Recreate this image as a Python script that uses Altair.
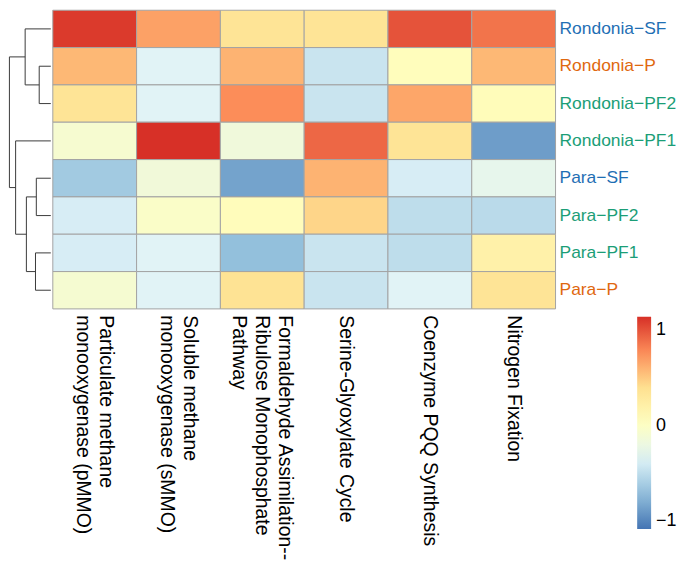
import altair as alt
import pandas as pd
import numpy as np

rows = ["Rondonia−SF", "Rondonia−P", "Rondonia−PF2", "Rondonia−PF1",
        "Para−SF", "Para−PF2", "Para−PF1", "Para−P"]
row_colors = ["#1f6fb4", "#e0680f", "#1b9e77", "#1b9e77",
              "#1f6fb4", "#1b9e77", "#1b9e77", "#e0680f"]
columns = ["Particulate methane\nmonooxygenase (pMMO)",
           "Soluble methane\nmonooxygenase (sMMO)",
           "Formaldehyde Assimilation--\nRibulose Monophosphate\nPathway",
           "Serine-Glyoxylate Cycle",
           "Coenzyme PQQ Synthesis",
           "Nitrogen Fixation"]

rondonia_sf = [1.10, 0.68, 0.35, 0.35, 1.00, 0.87]
rondonia_p = [0.58, -0.33, 0.60, -0.45, 0.05, 0.58]
rondonia_pf2 = [0.35, -0.33, 0.77, -0.45, 0.66, 0.07]
rondonia_pf1 = [-0.08, 1.14, -0.15, 0.92, 0.35, -0.88]
para_sf = [-0.63, -0.14, -0.85, 0.60, -0.38, -0.26]
para_pf2 = [-0.38, -0.03, 0.06, 0.45, -0.50, -0.52]
para_pf1 = [-0.38, -0.33, -0.70, -0.45, -0.50, 0.20]
para_p = [-0.09, -0.33, 0.37, -0.45, -0.33, 0.35]
matrix = [rondonia_sf, rondonia_p, rondonia_pf2, rondonia_pf1,
          para_sf, para_pf2, para_pf1, para_p]

# hierarchical clustering of rows: (child a, child b, merge height); leaves 0..7, new nodes 8..
merges = [(1, 2, 0.28), (0, 8, 0.62), (4, 5, 0.35), (6, 7, 0.37),
          (10, 11, 0.59), (3, 12, 0.85), (9, 13, 1.00)]

palette = ["#4575B4", "#91BFDB", "#E0F3F8", "#FFFFBF", "#FEE090", "#FC8D59", "#D73027"]
scale_min, scale_max = -1.08, 1.14

FONT = "Liberation Sans"
DW, W, H = 42, 505, 300
LH = 23

# ---- heatmap data
recs = []
for r, vals in zip(rows, matrix):
    for c, v in zip(columns, vals):
        recs.append({"row": r, "pathway": c, "value": v})
heat_df = pd.DataFrame(recs)
lab_df = pd.DataFrame({"row": rows, "rcolor": row_colors})

# ---- dendrogram segments
pos = {i: (0.0, i + 0.5) for i in range(len(rows))}
segs = []
for k, (a, b, h) in enumerate(merges):
    node = len(rows) + k
    (ha, ya), (hb, yb) = pos[a], pos[b]
    segs.append({"x1": ha, "x2": h, "y1": ya, "y2": ya})
    segs.append({"x1": hb, "x2": h, "y1": yb, "y2": yb})
    segs.append({"x1": h, "x2": h, "y1": ya, "y2": yb})
    pos[node] = (h, (ya + yb) / 2)
seg_df = pd.DataFrame(segs)

dendro = alt.Chart(seg_df).mark_rule(color="#3a3a3a", strokeWidth=1).encode(
    x=alt.X("x1:Q", scale=alt.Scale(domain=[0, 1.01], reverse=True, nice=False, zero=False), axis=None),
    x2="x2:Q",
    y=alt.Y("y1:Q", scale=alt.Scale(domain=[0, len(rows)], reverse=True, nice=False), axis=None),
    y2="y2:Q",
).properties(width=DW, height=H)

domain_pts = list(np.linspace(scale_min, scale_max, len(palette)))

label_offset = {
    "condition": [
        {"test": "indexof(datum.value, 'Pathway') >= 0", "value": LH},
        {"test": "indexof(datum.value, 'monooxygenase') >= 0", "value": LH / 2},
    ],
    "value": 0,
}

rects = alt.Chart(heat_df).mark_rect(stroke="#a3a3a3", strokeWidth=1).encode(
    x=alt.X("pathway:N", sort=columns,
            scale=alt.Scale(paddingInner=0, paddingOuter=0),
            axis=alt.Axis(orient="bottom", title=None, labelAngle=90,
                          labelExpr="split(datum.label, '\\n')",
                          ticks=False, domain=False, labelFont=FONT,
                          labelFontSize=19.5, labelColor="black",
                          labelPadding=6, labelLimit=0, labelLineHeight=LH,
                          labelOffset=label_offset)),
    y=alt.Y("row:N", sort=rows, scale=alt.Scale(paddingInner=0, paddingOuter=0), axis=None),
    color=alt.Color("value:Q",
                    scale=alt.Scale(domain=domain_pts, range=palette, interpolate="rgb"),
                    legend=alt.Legend(orient="none", legendX=587, legendY=308,
                                      direction="vertical", title=None,
                                      gradientLength=213, gradientThickness=14,
                                      gradientStrokeWidth=0, values=[-1, 0, 1],
                                      format="d",
                                      labelFont=FONT, labelFontSize=18,
                                      labelColor="black", labelOffset=5)),
)

row_labels = alt.Chart(lab_df).mark_text(align="left", baseline="middle",
                                         font=FONT, fontSize=17.5).encode(
    x=alt.value(W + 4),
    y=alt.Y("row:N", sort=rows, scale=alt.Scale(paddingInner=0, paddingOuter=0), axis=None),
    text="row:N",
    color=alt.Color("rcolor:N", scale=None),
)

heat = alt.layer(rects, row_labels).resolve_scale(color="independent").properties(width=W, height=H)

chart = alt.hconcat(dendro, heat, spacing=0).properties(
    padding={"left": 0, "top": 0, "right": 0, "bottom": 0}
).configure_view(stroke=None)

chart.save("out.html", embed_options={"renderer": "svg", "actions": False})
